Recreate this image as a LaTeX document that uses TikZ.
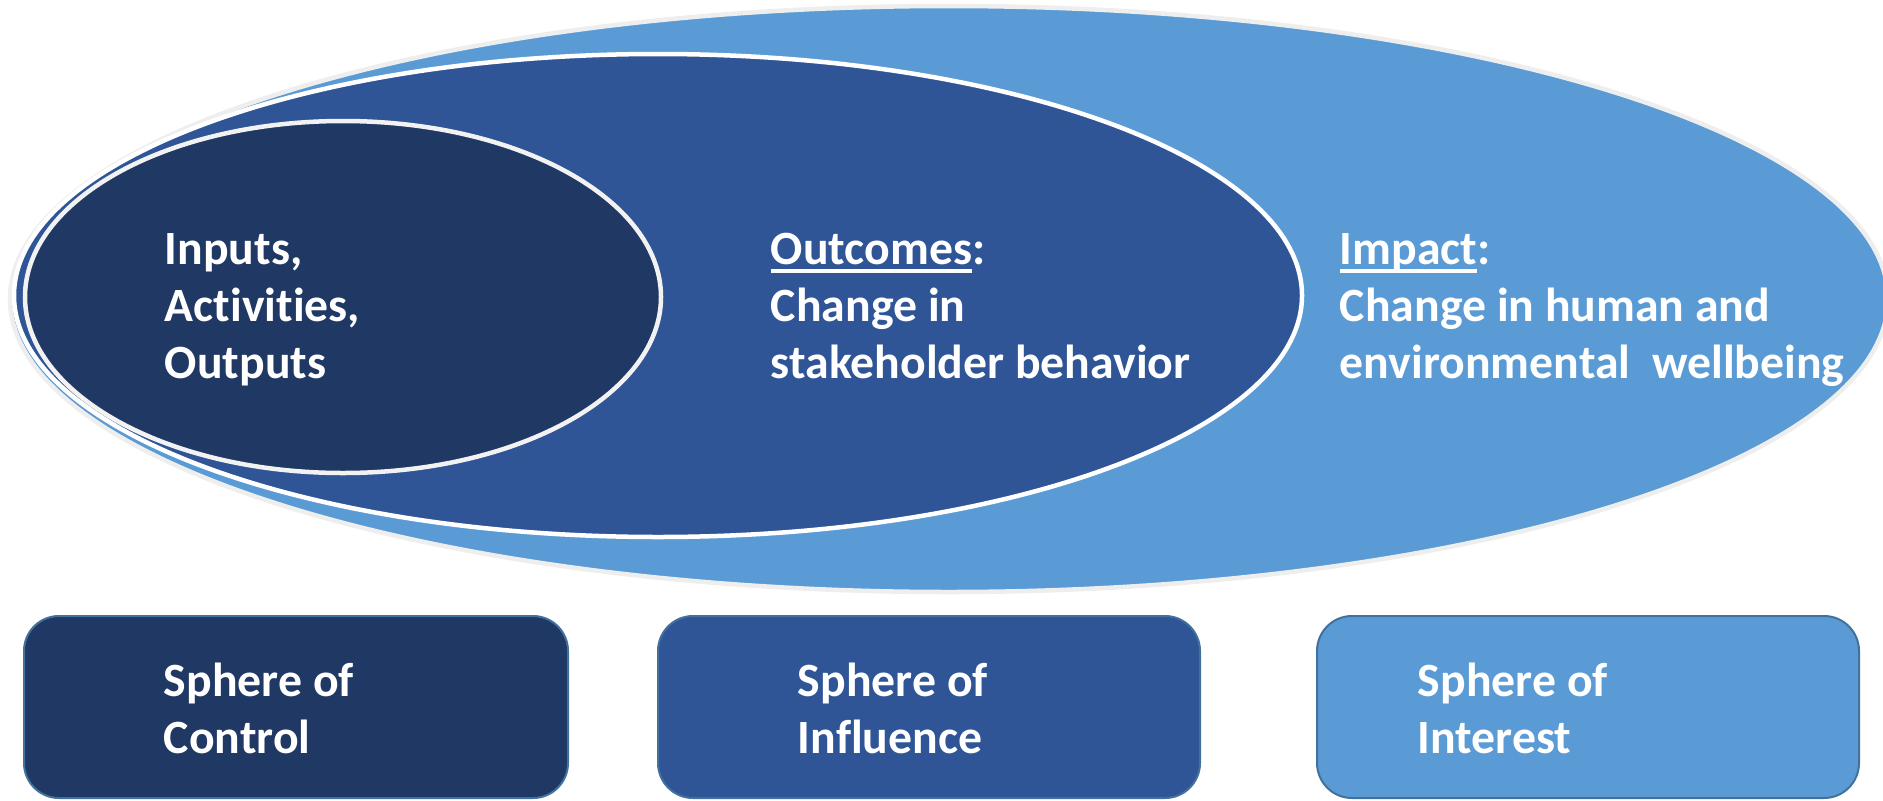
\documentclass[tikz,border=0pt]{standalone}
\usepackage{fontspec}
\setmainfont{Carlito}[Ligatures=NoCommon]

\newcommand{\ulword}[1]{\setbox0\hbox{#1}\rlap{\rule[-3.4pt]{\wd0}{1.6pt}}\box0}

\definecolor{darknavy}{RGB}{32,56,100}
\definecolor{midblue}{RGB}{47,85,151}
\definecolor{lightblue}{RGB}{91,155,213}
\definecolor{rimgray}{RGB}{238,238,238}
\definecolor{boxrim}{RGB}{65,113,156}

\tikzset{every picture/.style={line width=0.75pt}}
\tikzset{
  spheretext/.style={text=white, font=\fontsize{19.1}{22.8}\selectfont\bfseries, align=left, anchor=base west, inner sep=0pt},
  spherebox/.style={draw=boxrim, line width=0.8pt, rounded corners=14pt}
}

\begin{document}
\begin{tikzpicture}[x=0.4pt,y=0.4pt,yscale=-1,xscale=1]
\useasboundingbox (0,0) rectangle (1883,800);

%Shape: Ellipse [id:interest]
\draw [fill=lightblue, draw=rimgray, line width=1.8pt] (949,299) ellipse [x radius=939, y radius=293];
%Shape: Ellipse [id:influence]
\draw [fill=midblue, draw=white, line width=1.8pt] (658,295.5) ellipse [x radius=644, y radius=241.5];
%Shape: Ellipse [id:control]
\draw [fill=darknavy, draw=white!95!black, line width=1.8pt] (343,297) ellipse [x radius=318, y radius=176];

%Shape: Rectangle [id:controlbox]
\draw [spherebox, fill=darknavy] (24,616) rectangle (568,798);
%Shape: Rectangle [id:influencebox]
\draw [spherebox, fill=midblue] (658,616) rectangle (1200,798);
%Shape: Rectangle [id:interestbox]
\draw [spherebox, fill=lightblue] (1317,616) rectangle (1859,798);

% Text Node (anchored on the baseline of the last line)
\node [spheretext] (inputs) at (164,378) {Inputs,\\Activities,\\Outputs};
% Text Node
\node [spheretext] (outcomes) at (770,378) {\ulword{Outcomes}:\\Change in\\stakeholder behavior};
% Text Node
\node [spheretext] (impact) at (1339,378) {\ulword{Impact}:\\Change in human and\\environmental\ \ wellbeing};
% Text Node
\node [spheretext] (control) at (163,753) {Sphere of\\Control};
% Text Node
\node [spheretext] (influence) at (797,753) {Sphere of\\Influence};
% Text Node
\node [spheretext] (interest) at (1417,753) {Sphere of\\Interest};

\end{tikzpicture}
\end{document}
